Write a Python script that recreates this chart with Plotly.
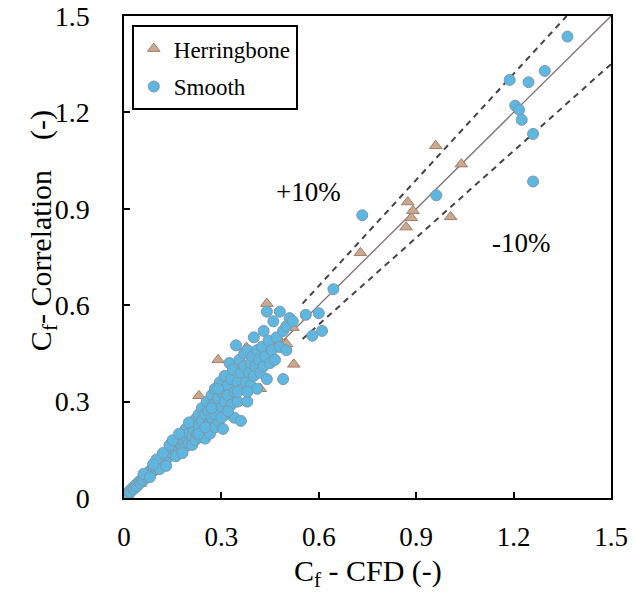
import plotly.graph_objects as go

# ---------------- data ----------------
smooth_x = [0.005, 0.01, 0.015, 0.02, 0.025, 0.03, 0.035, 0.04, 0.045, 0.05, 0.055, 0.06, 0.065, 0.07, 0.075,
            0.08, 0.085, 0.09, 0.095, 0.1, 0.1, 0.105, 0.11, 0.115, 0.12, 0.12, 0.125, 0.13, 0.13, 0.135,
            0.14, 0.14, 0.145, 0.15, 0.15, 0.155, 0.16, 0.16, 0.165, 0.17, 0.17, 0.175, 0.175, 0.18, 0.185,
            0.185, 0.19, 0.19, 0.195, 0.2, 0.2, 0.205, 0.21, 0.21, 0.215, 0.22, 0.22, 0.225, 0.23, 0.23,
            0.235, 0.24, 0.24, 0.245, 0.25, 0.25, 0.255, 0.26, 0.26, 0.265, 0.27, 0.27, 0.275, 0.28, 0.28,
            0.285, 0.29, 0.29, 0.295, 0.3, 0.3, 0.305, 0.31, 0.31, 0.315, 0.32, 0.32, 0.325, 0.33, 0.33,
            0.335, 0.34, 0.34, 0.345, 0.35, 0.35, 0.355, 0.36, 0.36, 0.365, 0.37, 0.37, 0.375, 0.38, 0.38,
            0.385, 0.39, 0.39, 0.395, 0.4, 0.4, 0.405, 0.41, 0.41, 0.415, 0.42, 0.425, 0.43, 0.43, 0.435,
            0.44, 0.44, 0.445, 0.45, 0.455, 0.46, 0.465, 0.47, 0.48, 0.48, 0.49, 0.49, 0.5, 0.5, 0.51,
            0.52, 0.56, 0.58, 0.6, 0.61, 0.645,
            0.06, 0.08, 0.1, 0.11, 0.13, 0.14, 0.16, 0.12, 0.09, 0.18, 0.2, 0.15, 0.17, 0.23, 0.25,
            0.28, 0.3, 0.32, 0.35, 0.38, 0.27, 0.29,
            0.734, 0.962, 1.188, 1.205, 1.217, 1.225, 1.246, 1.26, 1.26, 1.296, 1.366]
smooth_y = [0.008, 0.012, 0.02, 0.018, 0.03, 0.028, 0.04, 0.036, 0.05, 0.047, 0.058, 0.055, 0.07, 0.066, 0.08,
            0.074, 0.09, 0.084, 0.1, 0.092, 0.105, 0.098, 0.115, 0.105, 0.125, 0.11, 0.118, 0.135, 0.12, 0.128,
            0.15, 0.13, 0.14, 0.16, 0.138, 0.15, 0.17, 0.145, 0.158, 0.18, 0.15, 0.19, 0.165, 0.16, 0.2,
            0.175, 0.16, 0.215, 0.185, 0.2, 0.17, 0.23, 0.19, 0.165, 0.21, 0.245, 0.18, 0.2, 0.26, 0.225,
            0.19, 0.24, 0.28, 0.21, 0.26, 0.185, 0.3, 0.23, 0.27, 0.2, 0.25, 0.32, 0.29, 0.22, 0.34,
            0.27, 0.31, 0.24, 0.36, 0.28, 0.33, 0.215, 0.3, 0.38, 0.26, 0.35, 0.32, 0.42, 0.29, 0.37,
            0.4, 0.33, 0.25, 0.475, 0.36, 0.3, 0.43, 0.39, 0.24, 0.34, 0.41, 0.45, 0.36, 0.3, 0.46,
            0.39, 0.42, 0.35, 0.44, 0.38, 0.5, 0.41, 0.34, 0.46, 0.43, 0.39, 0.47, 0.52, 0.41, 0.44,
            0.58, 0.37, 0.49, 0.42, 0.46, 0.55, 0.43, 0.5, 0.58, 0.47, 0.37, 0.52, 0.535, 0.46, 0.56,
            0.55, 0.57, 0.505, 0.575, 0.52, 0.65,
            0.075, 0.065, 0.12, 0.09, 0.1, 0.165, 0.13, 0.14, 0.105, 0.14, 0.235, 0.18, 0.2, 0.2, 0.22,
            0.26, 0.25, 0.27, 0.33, 0.33, 0.28, 0.34,
            0.88, 0.942, 1.301, 1.221, 1.208, 1.177, 1.294, 1.133, 0.985, 1.329, 1.436]

herring_x = [0.01, 0.03, 0.05, 0.08, 0.1, 0.12, 0.15, 0.17, 0.2, 0.22, 0.231, 0.25, 0.27, 0.29, 0.3,
             0.32, 0.33, 0.35, 0.37, 0.377, 0.4, 0.42, 0.42, 0.44, 0.44, 0.45, 0.46, 0.48, 0.492, 0.5,
             0.523, 0.52, 0.728, 0.869, 0.874, 0.885, 0.89, 0.96, 1.006, 1.039]
herring_y = [0.01, 0.035, 0.045, 0.085, 0.1, 0.115, 0.155, 0.16, 0.21, 0.2, 0.318, 0.24, 0.3, 0.43, 0.29,
             0.36, 0.31, 0.4, 0.35, 0.468, 0.44, 0.41, 0.34, 0.605, 0.463, 0.48, 0.44, 0.49, 0.478, 0.48,
             0.416, 0.53, 0.763, 0.843, 0.921, 0.872, 0.894, 1.096, 0.875, 1.039]

# reference lines (1:1, +10 %, -10 %)
line_x = [0, 1.5]
line_y = [0, 1.5]
plus_x = [0.55, 1.3636]
plus_y = [0.605, 1.5]
minus_x = [0.55, 1.5]
minus_y = [0.495, 1.35]

FONT = "Liberation Serif"

fig = go.Figure()
fig.add_trace(go.Scatter(x=line_x, y=line_y, mode="lines", showlegend=False,
                         line=dict(color="#7a7270", width=1.3)))
fig.add_trace(go.Scatter(x=plus_x, y=plus_y, mode="lines", showlegend=False,
                         line=dict(color="#444444", width=2, dash="6px,5px")))
fig.add_trace(go.Scatter(x=minus_x, y=minus_y, mode="lines", showlegend=False,
                         line=dict(color="#444444", width=2, dash="6px,5px")))
fig.add_trace(go.Scatter(x=herring_x, y=herring_y, mode="markers", name="Herringbone", legendgroup="h",
                         marker=dict(symbol="triangle-up", size=11, color="#c9a990",
                                     line=dict(color="#a47e68", width=1))))
fig.add_trace(go.Scatter(x=smooth_x, y=smooth_y, mode="markers", name="Smooth", legendgroup="s",
                         marker=dict(symbol="circle", size=11, color="#5db7e0",
                                     line=dict(color="#7d98aa", width=1))))

fig.add_annotation(x=0.568, y=0.953, text="+10%", showarrow=False,
                   font=dict(family=FONT, size=27, color="black"))
fig.add_annotation(x=1.222, y=0.795, text="-10%", showarrow=False,
                   font=dict(family=FONT, size=27, color="black"))

# axis titles
fig.add_annotation(xref="paper", yref="paper", x=0.5, y=-0.156, xanchor="center", yanchor="middle",
                   text="C<sub>f</sub> - CFD (-)", showarrow=False,
                   font=dict(family=FONT, size=30, color="black"))
fig.add_annotation(xref="paper", yref="paper", x=-0.166, y=0.554, xanchor="center", yanchor="middle",
                   text="C<sub>f</sub>- Correlation&nbsp;&nbsp;&nbsp;&nbsp;(-)", textangle=-90, showarrow=False,
                   font=dict(family=FONT, size=30, color="black"))

axis_common = dict(range=[0, 1.5], dtick=0.3, tick0=0, ticks="inside", ticklen=6, tickwidth=1.5,
                   tickcolor="black", showline=True, linecolor="black", linewidth=1.5, mirror=True,
                   showgrid=False, zeroline=False, automargin=False, ticklabeloverflow="allow")

fig.update_layout(
    width=635, height=597,
    margin=dict(l=124, r=24, t=16, b=99),
    paper_bgcolor="white", plot_bgcolor="white",
    font=dict(family=FONT, size=26, color="black"),
    xaxis=dict(**axis_common, ticklabelstandoff=14, tickfont=dict(family=FONT, size=27, color="black")),
    yaxis=dict(**axis_common, ticklabelstandoff=27, tickfont=dict(family=FONT, size=28, color="black")),
    legend=dict(x=0.016, y=0.981, xanchor="left", yanchor="top", bgcolor="white",
                bordercolor="black", borderwidth=2, font=dict(family=FONT, size=23),
                itemwidth=30, tracegroupgap=5),
)

fig.write_html("out.html", post_script="document.body.style.margin='0';",
               config={"displayModeBar": False})
